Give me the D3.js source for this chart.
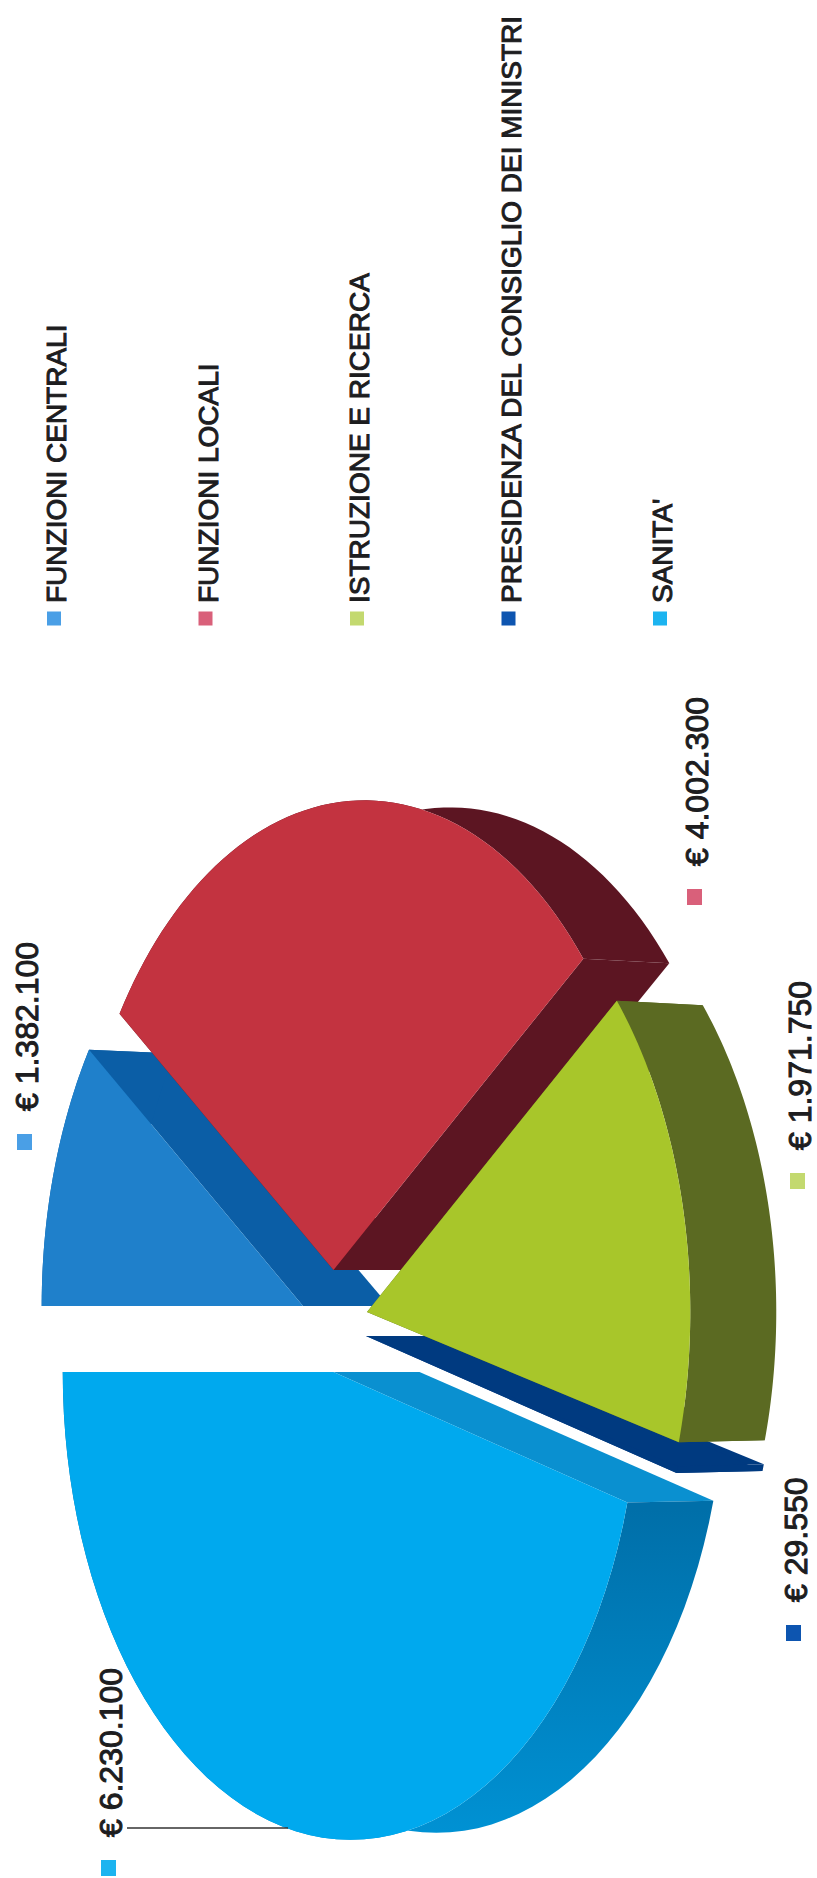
<!DOCTYPE html>
<html>
<head>
<meta charset="utf-8">
<script src="https://cdnjs.cloudflare.com/ajax/libs/d3/7.8.5/d3.min.js"></script>
<style>
 html,body{margin:0;padding:0;background:#fff;}
 svg{display:block;}
 text{font-family:"Liberation Sans",Arial,sans-serif;fill:#1d1d1f;stroke:#1d1d1f;stroke-width:1px;}
</style>
</head>
<body>
<script>
 // data, in legend order
 var categories=["FUNZIONI CENTRALI","FUNZIONI LOCALI","ISTRUZIONE E RICERCA","PRESIDENZA DEL CONSIGLIO DEI MINISTRI","SANITA'"];
 var values=[1382100,4002300,1971750,29550,6230100];

 // colours per slice
 var topColors=["#1f80cb","#c33340","#a8c62a","#003a80","#00a9ee"];
 var radialColors=["#0b5ea6","#5c1522","#5b6a22","#003a80","#0a90d0"];
 var outerColors=["#0b5ea6","#5c1522","#5b6a22","#003a80","url(#sanitaBand)"];
 var legendColors=["#4a9fe6","#d9607a","#c3d96f","#0d55b0","#1cb4f0"];

 // layout per slice: pie tip on the page, perspective strength, width of the face
 var tipX=[303,333.5,367,366,333.5];
 var tipY=[1306,1270,1312,1336,1372];
 var perspective=[.106,.106,.106,.106,.06];
 var faceA=[289,289,289,289,287];
 var faceB=467;
 var depthX=86, depthShrink=.985;
 // painting order, back to front
 var drawOrder=[0,4,1,3,2];

 var valueLabelX=[38,708,811,807,122];
 var valueLabelY=[1111,866,1150,1602,1837];

 var width=817, height=1878;
 var svg=d3.select("body").append("svg").attr("width",width).attr("height",height);

 var grad=svg.append("defs").append("linearGradient").attr("id","sanitaBand")
   .attr("gradientUnits","userSpaceOnUse").attr("x1",0).attr("x2",0).attr("y1",1510).attr("y2",1840);
 grad.append("stop").attr("offset","0").attr("stop-color","#006fa9");
 grad.append("stop").attr("offset","1").attr("stop-color","#0092d4");

 var pie=d3.pie().sort(null).value(function(d){return d;})
   .startAngle(1.5*Math.PI).endAngle(3.5*Math.PI);
 var slices=pie(values);

 var unitX=d3.scaleLinear().domain([0,1]), unitY=d3.scaleLinear().domain([0,1]).range([0,faceB]);
 var line=d3.line().x(function(d){return d[0];}).y(function(d){return d[1];});

 // pie angle -> page point, circle seen in perspective
 function project(i,a){
   var u=Math.sin(a), v=-Math.cos(a), w=1-perspective[i]*u;
   unitX.range([0,faceA[i]]);
   return [tipX[i]+unitX(u/w), tipY[i]+unitY(v/w)];
 }
 function rim(i,s){
   return d3.range(0,61).map(function(n){
     return project(i,s.startAngle+(s.endAngle-s.startAngle)*n/60);
   });
 }

 drawOrder.forEach(function(i){
   var s=slices[i], r=rim(i,s), tip=[tipX[i],tipY[i]];
   // the far edge of the wall is a bit smaller than the top face
   function shift(p){return [p[0]+depthX,tipY[i]+(p[1]-tipY[i])*depthShrink];}
   var g=svg.append("g");
   // radial walls
   g.append("path").attr("d",line([tip,r[0],shift(r[0]),shift(tip)])+"Z").attr("fill",radialColors[i]);
   g.append("path").attr("d",line([tip,r[60],shift(r[60]),shift(tip)])+"Z").attr("fill",radialColors[i]);
   // outer wall
   g.append("path").attr("d",line(r.concat(r.map(shift).reverse()))+"Z").attr("fill",outerColors[i]);
   // top face
   g.append("path").attr("d",line([tip].concat(r))+"Z").attr("fill",topColors[i]);
 });

 // leader of the biggest slice
 svg.append("line").attr("x1",127).attr("x2",288).attr("y1",1828).attr("y2",1828)
   .attr("stroke","#333").attr("stroke-width",1.6);

 // value labels with their square
 var euro=d3.formatLocale({decimal:",",thousands:".",grouping:[3],currency:["€ ",""]}).format("$,");
 categories.forEach(function(c,i){
   svg.append("text").attr("transform","translate("+valueLabelX[i]+","+valueLabelY[i]+") rotate(-90)")
     .attr("font-size",32).text(euro(values[i]));
   svg.append("rect").attr("x",valueLabelX[i]-21).attr("y",valueLabelY[i]+23)
     .attr("width",15).attr("height",16).attr("fill",legendColors[i]);
 });

 // legend
 var legendX=d3.scalePoint().domain(categories).range([66,672]);
 categories.forEach(function(c,i){
   var x=legendX(c);
   svg.append("text").attr("transform","translate("+x+",603) rotate(-90)").attr("font-size",28).text(c);
   svg.append("rect").attr("x",x-19).attr("y",611.5).attr("width",14).attr("height",14).attr("fill",legendColors[i]);
 });
</script>
</body>
</html>
